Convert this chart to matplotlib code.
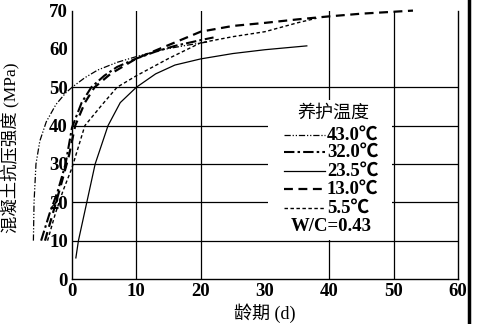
import matplotlib
matplotlib.use("Agg")
import matplotlib.pyplot as plt
from matplotlib.lines import Line2D
from matplotlib.patches import Rectangle

# ---- data ----
x_43 = [-6.0, -5.9, -5.6, -5.0, -4.0, -2.5, -1.0, 0, 2, 4, 7, 10, 14, 18, 21]
y_43 = [10, 20, 30, 36, 41, 45.5, 48.5, 50, 52.5, 54.5, 56.5, 58, 59.8, 61, 61.8]

x_32 = [-4.8, -3.5, -2.2, -1.0, 0, 1.5, 3, 5, 7, 10, 13, 16, 20, 22]
y_32 = [10, 17, 23, 30, 39.5, 46, 50, 53, 55.3, 57.5, 59.3, 60.8, 62.3, 63]

x_235 = [0.6, 1.0, 2.3, 3.6, 5.6, 7.5, 10, 13, 16, 20, 25, 30, 36.5]
y_235 = [5.5, 10, 20, 30, 40, 46, 50, 53.5, 55.8, 57.4, 58.8, 59.8, 60.8]

x_13 = [-4.2, -3.0, -1.8, -0.5, 0.5, 2, 3.5, 6, 10, 15, 20, 25, 30, 35, 40, 45, 53]
y_13 = [10, 17, 24, 32, 40, 46, 50, 53.5, 57.5, 61, 64.5, 66, 66.8, 67.7, 68.5, 69.2, 70]

x_55 = [-3.8, -2.6, -1.4, 0, 2, 4.7, 7, 10, 15, 20, 25, 30, 35, 38]
y_55 = [10, 17, 23, 29, 40, 45.5, 50, 53, 57.5, 61.6, 63.2, 64.5, 66.8, 68]

legend_labels = ["43.0℃", "32.0℃", "23.5℃", "13.0℃", "5.5℃"]
legend_title = "养护温度"
note = "W/C=0.43"
x_ticks = [0, 10, 20, 30, 40, 50, 60]
y_ticks = [0, 10, 20, 30, 40, 50, 60, 70]
x_grid = [10, 20, 40, 50]
y_grid = [10, 20, 30, 40, 50]
xlabel = "龄期 (d)"
ylabel = "混凝土抗压强度 (MPa)"

cjk_fam = ["Liberation Serif", "Noto Sans CJK SC", "DejaVu Sans"]
num_font = {"family": cjk_fam, "weight": "bold", "size": 13.5}

fig = plt.figure(figsize=(4.88, 3.24), dpi=100)
ax = fig.add_axes([72/488, 1-279/324, (458-72)/488, (279-10.6)/324])
ax.set_xlim(0, 60)
ax.set_ylim(0, 70)

for gx in x_grid:
    ax.axvline(gx, color="black", lw=0.9, zorder=1)
for gy in y_grid:
    ax.axhline(gy, color="black", lw=0.9, zorder=1)

styles = [
    (x_43, y_43, dict(color="black", lw=0.9, dashes=(5, 1.5, 1, 1.5, 1, 1.5))),
    (x_32, y_32, dict(color="black", lw=1.5, dashes=(5, 1.5, 1.2, 1.5))),
    (x_235, y_235, dict(color="black", lw=0.9, linestyle="-")),
    (x_13, y_13, dict(color="black", lw=1.6, dashes=(4, 2.5))),
    (x_55, y_55, dict(color="black", lw=1.0, dashes=(2.5, 1.8))),
]
for xs, ys, st in styles:
    ax.plot(xs, ys, clip_on=False, zorder=3, **st)

ax.spines["top"].set_visible(False)
for s in ["left", "bottom", "right"]:
    ax.spines[s].set_linewidth(1.0)
ax.set_xticks(x_ticks)
ax.set_yticks(y_ticks)
ax.tick_params(length=0, pad=3)
ax.set_xticklabels([str(v) for v in x_ticks], fontdict=num_font)
ax.set_yticklabels([str(v) for v in y_ticks], fontdict=num_font)
ax.set_xlabel(xlabel, family=cjk_fam, fontsize=13, labelpad=2)
ax.set_ylabel(ylabel, family=cjk_fam, fontsize=12.5)
ax.yaxis.set_label_coords(-0.135, 0.49)

# legend block (drawn manually to match layout)
ax.add_patch(Rectangle((30.5, 10.3), 19.3, 36.5, facecolor="white", edgecolor="none", zorder=4))
ax.text(40.7, 43.3, legend_title, family=cjk_fam, fontsize=13, ha="center", va="center", zorder=5)
ys_leg = [37.5, 33.0, 28.2, 23.5, 18.5]
for (xs, ys, st), lab, yl in zip(styles, legend_labels, ys_leg):
    ax.add_line(Line2D([32.9, 39.3], [yl, yl], zorder=5, **st))
    ax.text(39.6, yl, lab, fontdict=num_font, ha="left", va="center", zorder=5)
ax.text(40.3, 13.6, note, fontdict=num_font, ha="center", va="center", zorder=5)

fig.add_artist(Line2D([469/488, 469/488], [0, 1], color="black", lw=2.5))

fig.savefig("out.png", dpi=100)
